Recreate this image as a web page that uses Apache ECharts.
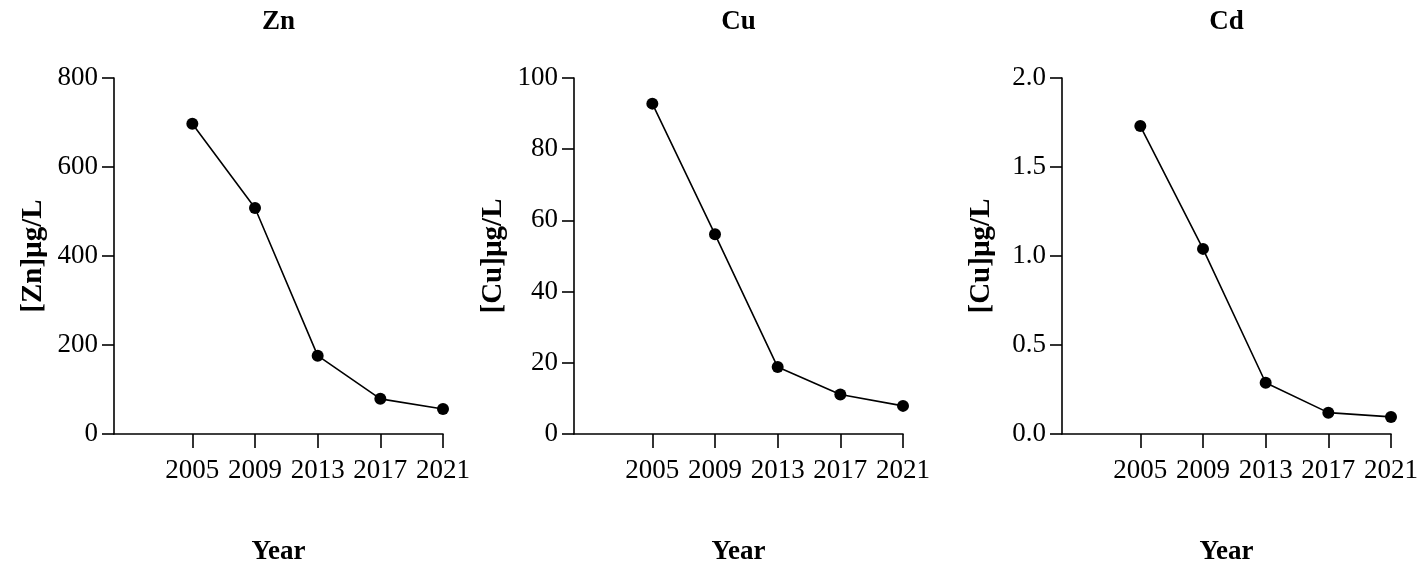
<!DOCTYPE html>
<html>
<head>
<meta charset="utf-8">
<script src="https://cdn.jsdelivr.net/npm/echarts@6/dist/echarts.min.js"></script>
<style>html,body{margin:0;padding:0;background:#fff}#c{width:1422px;height:566px}</style>
</head>
<body>
<div id="c"></div>
<script>
const years = [2005, 2009, 2013, 2017, 2021];
const titles = ['Zn', 'Cu', 'Cd'];
const yNames = ['[Zn]µg/L', '[Cu]µg/L', '[Cu]µg/L'];
const xName = 'Year';
const znValues = [697, 508, 176, 79, 56];
const cuValues = [92.8, 56.1, 18.8, 11.1, 7.9];
const cdValues = [1.73, 1.04, 0.288, 0.12, 0.096];
const yMax = [800, 100, 2.0];
const yInterval = [200, 20, 0.5];
const yDecimals = [0, 0, 1];

const FONT = '"Liberation Serif", "Times New Roman", serif';
const seriesValues = [znValues, cuValues, cdValues];
const gridLefts = [114, 574, 1062];
const gridW = 329, gridTop = 78, gridH = 356;

const chart = echarts.init(document.getElementById('c'), null, {renderer: 'canvas'});
const option = {
  backgroundColor: '#fff',
  animation: false,
  grid: gridLefts.map(l => ({left: l, top: gridTop, width: gridW, height: gridH, containLabel: false, outerBoundsMode: 'none'})),
  graphic: titles.map((t, i) => ({
    type: 'text',
    x: gridLefts[i] + gridW / 2,
    y: 22,
    style: {text: t, font: 'bold 27px ' + FONT, fill: '#000', align: 'center', verticalAlign: 'middle'}
  })),
  xAxis: titles.map((t, i) => ({
    type: 'value', gridIndex: i, min: 2000, max: 2021,
    name: xName, nameLocation: 'middle', nameGap: 105,
    nameTextStyle: {fontFamily: FONT, fontWeight: 'bold', fontSize: 27, color: '#000'},
    axisLine: {show: true, onZero: false, lineStyle: {color: '#000', width: 1.6}},
    axisTick: {show: true, length: 14, lineStyle: {color: '#000', width: 1.6}, customValues: years},
    axisLabel: {fontFamily: FONT, fontSize: 27, color: '#000', margin: 23, customValues: years, formatter: v => String(v)},
    splitLine: {show: false}
  })),
  yAxis: titles.map((t, i) => ({
    type: 'value', gridIndex: i, min: 0, max: yMax[i], interval: yInterval[i],
    name: yNames[i], nameLocation: 'middle', nameGap: 66, nameRotate: 90,
    nameTextStyle: {fontFamily: FONT, fontWeight: 'bold', fontSize: 29, color: '#000'},
    axisLine: {show: true, lineStyle: {color: '#000', width: 1.6}},
    axisTick: {show: true, length: 12, lineStyle: {color: '#000', width: 1.6}},
    axisLabel: {fontFamily: FONT, fontSize: 27, color: '#000', margin: 16, formatter: v => v.toFixed(yDecimals[i])},
    splitLine: {show: false}
  })),
  series: seriesValues.map((vals, i) => ({
    type: 'line', xAxisIndex: i, yAxisIndex: i,
    data: years.map((y, k) => [y, vals[k]]),
    symbol: 'circle', symbolSize: 12,
    itemStyle: {color: '#000'},
    lineStyle: {color: '#000', width: 1.6}
  }))
};
chart.setOption(option);
</script>
</body>
</html>
